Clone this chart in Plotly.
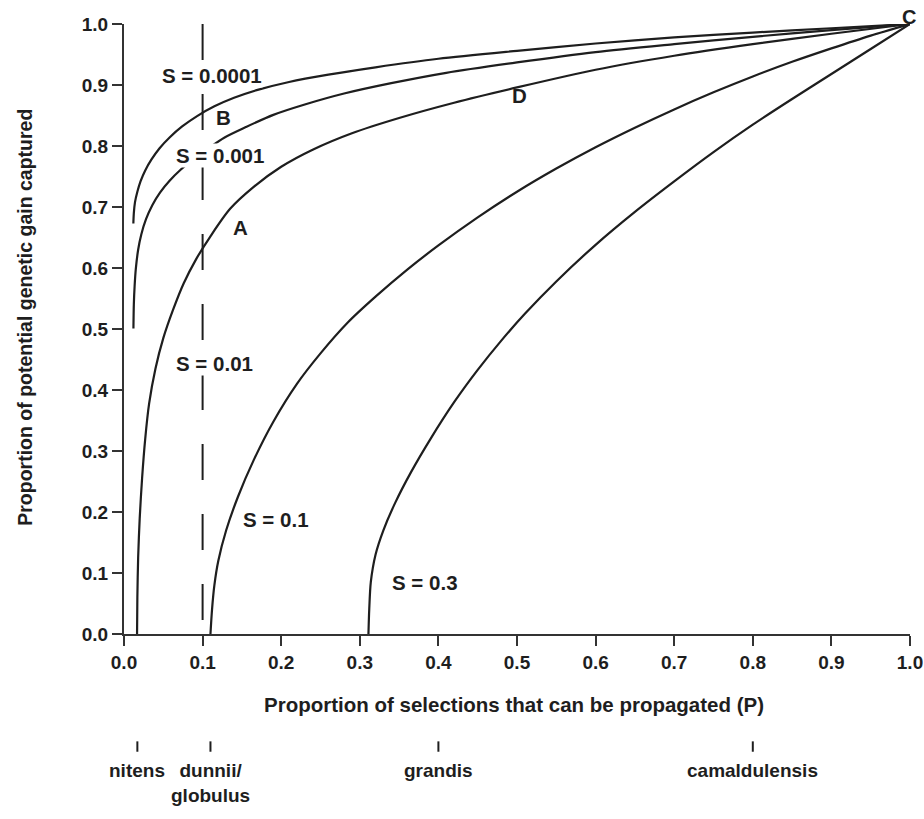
import plotly.graph_objects as go

# ---------------- data ----------------
p_s0001 = [0.0119, 0.0125, 0.014, 0.017, 0.021, 0.027, 0.035, 0.045, 0.058, 0.074, 0.093, 0.115,
           0.140, 0.170, 0.210, 0.260, 0.320, 0.400, 0.500, 0.600, 0.700, 0.800, 0.900, 1.000]
g_s0001 = [0.673, 0.690, 0.708, 0.725, 0.742, 0.760, 0.778, 0.796, 0.814, 0.832, 0.849, 0.865,
           0.879, 0.892, 0.905, 0.917, 0.929, 0.943, 0.956, 0.968, 0.978, 0.986, 0.993, 1.000]

p_s001 = [0.012, 0.0125, 0.0135, 0.015, 0.018, 0.022, 0.028, 0.036, 0.046, 0.058, 0.072, 0.088,
          0.106, 0.128, 0.155, 0.190, 0.230, 0.280, 0.340, 0.410, 0.500, 0.600, 0.700, 0.800,
          0.900, 1.000]
g_s001 = [0.501, 0.540, 0.570, 0.598, 0.630, 0.655, 0.680, 0.703, 0.724, 0.743, 0.761, 0.778,
          0.795, 0.814, 0.831, 0.851, 0.868, 0.886, 0.903, 0.920, 0.937, 0.954, 0.967, 0.979,
          0.990, 1.000]

p_s01 = [0.0166, 0.017, 0.018, 0.020, 0.023, 0.027, 0.032, 0.040, 0.050, 0.062, 0.076, 0.092,
         0.110, 0.135, 0.165, 0.200, 0.240, 0.290, 0.350, 0.420, 0.500, 0.600, 0.700, 0.800,
         0.900, 1.000]
g_s01 = [0.000, 0.060, 0.125, 0.190, 0.255, 0.320, 0.378, 0.435, 0.485, 0.530, 0.575, 0.615,
         0.652, 0.697, 0.733, 0.766, 0.794, 0.821, 0.846, 0.871, 0.896, 0.925, 0.948, 0.967,
         0.984, 1.000]

p_s1 = [0.110, 0.112, 0.115, 0.120, 0.130, 0.145, 0.165, 0.190, 0.220, 0.250, 0.285, 0.320,
        0.360, 0.400, 0.450, 0.500, 0.550, 0.600, 0.650, 0.700, 0.750, 0.800, 0.850, 0.900,
        0.950, 1.000]
g_s1 = [0.000, 0.040, 0.080, 0.120, 0.170, 0.225, 0.285, 0.348, 0.410, 0.460, 0.511, 0.553,
        0.597, 0.637, 0.683, 0.725, 0.763, 0.798, 0.830, 0.860, 0.888, 0.914, 0.938, 0.960,
        0.981, 1.000]

p_s3 = [0.311, 0.312, 0.314, 0.320, 0.330, 0.345, 0.365, 0.390, 0.420, 0.450, 0.480, 0.510,
        0.550, 0.600, 0.650, 0.700, 0.750, 0.800, 0.850, 0.900, 0.950, 1.000]
g_s3 = [0.000, 0.040, 0.085, 0.130, 0.170, 0.215, 0.265, 0.320, 0.380, 0.433, 0.481, 0.525,
        0.578, 0.638, 0.692, 0.742, 0.790, 0.835, 0.877, 0.918, 0.959, 1.000]

series_names = ["S = 0.0001", "S = 0.001", "S = 0.01", "S = 0.1", "S = 0.3"]

x_ticks = [0.0, 0.1, 0.2, 0.3, 0.4, 0.5, 0.6, 0.7, 0.8, 0.9, 1.0]
y_ticks = [0.0, 0.1, 0.2, 0.3, 0.4, 0.5, 0.6, 0.7, 0.8, 0.9, 1.0]

dashed_p = 0.1

species_names = ["nitens", "dunnii/<br>globulus", "grandis", "camaldulensis"]
species_p = [0.017, 0.11, 0.40, 0.80]

# ---------------- figure ----------------
FONT = "Liberation Sans, Arial, sans-serif"
INK = "#1e1e1e"

fig = go.Figure()
for xs, ys, nm in zip([p_s0001, p_s001, p_s01, p_s1, p_s3],
                      [g_s0001, g_s001, g_s01, g_s1, g_s3], series_names):
    fig.add_trace(go.Scatter(x=xs, y=ys, mode="lines", name=nm,
                             line=dict(color=INK, width=2.2, shape="spline", smoothing=0.8),
                             cliponaxis=False, showlegend=False, hoverinfo="skip"))

# dashed reference line at P = 0.1
fig.add_shape(type="line", xref="x", yref="y", x0=dashed_p, x1=dashed_p, y0=1, y1=0,
              line=dict(color=INK, width=2, dash="36px,34px"), layer="below")

# species tick marks and names under the axis
for sp, nm in zip(species_p, species_names):
    fig.add_shape(type="line", xref="x", yref="paper", x0=sp, x1=sp, y0=-0.176, y1=-0.193,
                  line=dict(color=INK, width=2))
    fig.add_annotation(x=sp, y=-0.203, xref="x", yref="paper", text="<b>%s</b>" % nm,
                       showarrow=False, yanchor="top", xanchor="center",
                       font=dict(family=FONT, size=19, color=INK))

# curve labels (white backgrounds interrupt the lines like the original)
labels = [
    ("S = 0.0001", 0.112, 0.916, True),
    ("B", 0.127, 0.846, False),
    ("S = 0.001", 0.122, 0.785, True),
    ("A", 0.148, 0.666, False),
    ("S = 0.01", 0.115, 0.444, True),
    ("S = 0.1", 0.194, 0.187, False),
    ("S = 0.3", 0.383, 0.084, False),
    ("D", 0.503, 0.882, False),
]
for txt, lx, ly, bg in labels:
    fig.add_annotation(x=lx, y=ly, xref="x", yref="y", text="<b>%s</b>" % txt,
                       showarrow=False, xanchor="center", yanchor="middle",
                       bgcolor="white" if bg else "rgba(0,0,0,0)", borderpad=0,
                       font=dict(family=FONT, size=20.5, color=INK))
# "C" sits just above the common end point (outside the axis range -> paper y)
fig.add_annotation(x=0.9985, y=1.012, xref="x", yref="paper", text="<b>C</b>",
                   showarrow=False, xanchor="center", yanchor="middle",
                   font=dict(family=FONT, size=20, color=INK))

# axis titles
fig.add_annotation(x=0.496, y=-0.116, xref="paper", yref="paper",
                   text="<b>Proportion of selections that can be propagated (P)</b>",
                   showarrow=False, xanchor="center", yanchor="middle",
                   font=dict(family=FONT, size=20.5, color=INK))
fig.add_annotation(x=-0.126, y=0.52, xref="paper", yref="paper",
                   text="<b>Proportion of potential genetic gain captured</b>",
                   textangle=-90, showarrow=False, xanchor="center", yanchor="middle",
                   font=dict(family=FONT, size=19.5, color=INK))

axis_common = dict(showline=True, linecolor="#333333", linewidth=2, ticks="outside",
                   ticklen=10, tickwidth=2, tickcolor="#333333", showgrid=False,
                   zeroline=False, mirror=False, tickformat=".1f", automargin=False,
                   tickfont=dict(family=FONT, size=19, color=INK, weight="bold"))

fig.update_layout(
    width=924, height=819,
    margin=dict(l=124, r=14, t=24, b=185, autoexpand=False),
    paper_bgcolor="white", plot_bgcolor="white",
    xaxis=dict(range=[0, 1], tickvals=x_ticks, **axis_common),
    yaxis=dict(range=[0, 1], tickvals=y_ticks, **axis_common),
    showlegend=False,
)

fig.write_html("out.html",
               config={"displayModeBar": False},
               post_script="document.body.style.margin='0';"
                           "document.body.style.overflow='hidden';")
